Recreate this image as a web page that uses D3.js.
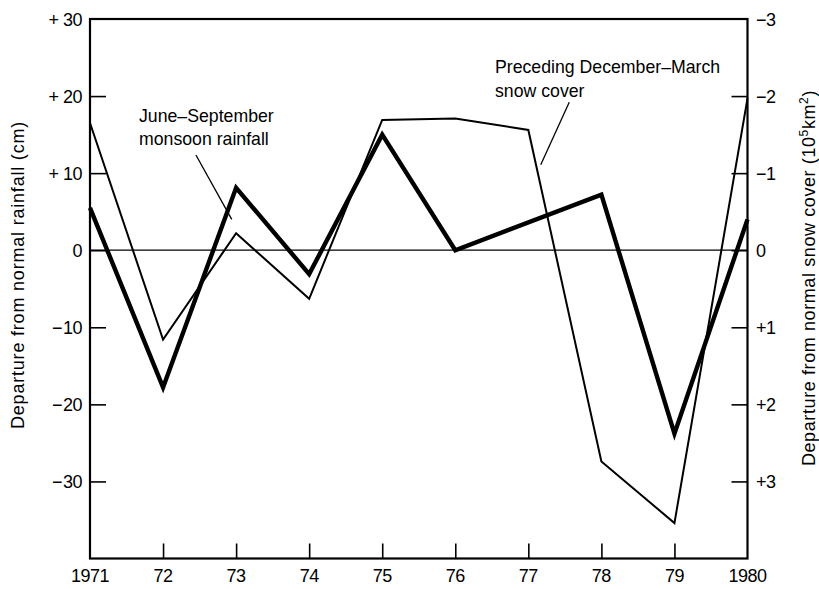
<!DOCTYPE html>
<html>
<head>
<meta charset="utf-8">
<script src="https://cdn.jsdelivr.net/npm/d3@7/dist/d3.min.js"></script>
<style>
  html, body { margin: 0; padding: 0; background: #fff; }
  svg { display: block; }
  text { font-family: "Liberation Sans", Arial, Helvetica, sans-serif; fill: #000; }
</style>
</head>
<body>
<svg id="chart" width="819" height="589"></svg>
<script>
// Years on the horizontal axis
const years = [1971, 1972, 1973, 1974, 1975, 1976, 1977, 1978, 1979, 1980];
const yearLabels = ["1971", "72", "73", "74", "75", "76", "77", "78", "79", "1980"];

// June–September monsoon rainfall, departure from normal (cm)
const rainfall = [5.5, -17.8, 8.1, -3.1, 15.0, 0.0, null, 7.2, -23.8, 4.0];

// Preceding December–March snow cover, departure from normal (10^5 km^2)
const snowCover = [-1.65, 1.16, -0.22, 0.63, -1.69, -1.71, -1.56, 2.74, 3.54, -1.97];

// Tick values and labels for the two vertical axes
const rainTicks = [30, 20, 10, 0, -10, -20, -30];
const rainTickLabels = ["+ 30", "+ 20", "+ 10", "0", "\u2212\u200A10", "\u2212\u200A20", "\u2212\u200A30"];
const snowTicks = [-3, -2, -1, 0, 1, 2, 3];
const snowTickLabels = ["\u22123", "\u22122", "\u22121", "0", "+1", "+2", "+3"];

const svg = d3.select("#chart");
const plotLeft = 90, plotRight = 747.5, plotTop = 19, plotBottom = 558.5;

const x = d3.scaleLinear().domain([1971, 1980]).range([plotLeft, plotRight]);
const yRain = d3.scaleLinear().domain([-40, 30]).range([plotBottom, plotTop]);
const ySnow = d3.scaleLinear().domain([4, -3]).range([plotBottom, plotTop]);

const tickFont = 18, tickSpacing = -0.5;

// Zero reference line
svg.append("line")
  .attr("x1", plotLeft).attr("x2", plotRight)
  .attr("y1", yRain(0)).attr("y2", yRain(0))
  .attr("stroke", "#000").attr("stroke-width", 1.3);

// Left axis with inward ticks
const leftAxis = d3.axisRight(yRain)
  .tickValues(rainTicks.filter(v => v !== 30))
  .tickSize(16).tickFormat("");
const gL = svg.append("g").attr("transform", `translate(${plotLeft},0)`).call(leftAxis);
gL.select(".domain").remove();
gL.selectAll(".tick line").attr("stroke", "#000").attr("stroke-width", 1.6);

svg.append("g").selectAll("text").data(rainTicks).join("text")
  .attr("x", 82).attr("y", d => yRain(d) + 6.6)
  .attr("text-anchor", "end")
  .attr("font-size", tickFont)
  .attr("letter-spacing", tickSpacing)
  .attr("xml:space", "preserve")
  .text((d, i) => rainTickLabels[i]);

// Right axis with inward ticks
const rightAxis = d3.axisLeft(ySnow)
  .tickValues(snowTicks.filter(v => v !== -3))
  .tickSize(16).tickFormat("");
const gR = svg.append("g").attr("transform", `translate(${plotRight},0)`).call(rightAxis);
gR.select(".domain").remove();
gR.selectAll(".tick line").attr("stroke", "#000").attr("stroke-width", 1.6);

svg.append("g").selectAll("text").data(snowTicks).join("text")
  .attr("x", 756).attr("y", d => ySnow(d) + 6.6)
  .attr("text-anchor", "start")
  .attr("font-size", tickFont)
  .attr("letter-spacing", tickSpacing)
  .text((d, i) => snowTickLabels[i]);

// Bottom axis with inward ticks
const bottomAxis = d3.axisTop(x)
  .tickValues(years.slice(1, -1))
  .tickSize(15).tickFormat("");
const gB = svg.append("g").attr("transform", `translate(0,${plotBottom})`).call(bottomAxis);
gB.select(".domain").remove();
gB.selectAll(".tick line").attr("stroke", "#000").attr("stroke-width", 1.6);

svg.append("g").selectAll("text").data(years).join("text")
  .attr("x", d => x(d)).attr("y", 582)
  .attr("text-anchor", "middle")
  .attr("font-size", tickFont)
  .attr("letter-spacing", tickSpacing)
  .text((d, i) => yearLabels[i]);

// Plot frame
svg.append("rect")
  .attr("x", plotLeft).attr("y", plotTop)
  .attr("width", plotRight - plotLeft).attr("height", plotBottom - plotTop)
  .attr("fill", "none").attr("stroke", "#000").attr("stroke-width", 2.2);

// Snow cover series (thin line, right axis)
const snowLine = d3.line()
  .x((d, i) => x(years[i]))
  .y(d => ySnow(d));
svg.append("path")
  .datum(snowCover)
  .attr("d", snowLine)
  .attr("fill", "none").attr("stroke", "#000")
  .attr("stroke-width", 2).attr("stroke-linejoin", "miter");

// Rainfall series (thick line, left axis); 1977 has no value
const rainPts = years.map((yr, i) => [yr, rainfall[i]]).filter(p => p[1] !== null);
const rainLine = d3.line()
  .x(d => x(d[0]))
  .y(d => yRain(d[1]));
svg.append("path")
  .datum(rainPts)
  .attr("d", rainLine)
  .attr("fill", "none").attr("stroke", "#000")
  .attr("stroke-width", 4.4).attr("stroke-linejoin", "miter");

// Series annotations with leader lines
svg.append("line")
  .attr("x1", x(1972.45)).attr("y1", yRain(12.35))
  .attr("x2", x(1972.94)).attr("y2", yRain(4.0))
  .attr("stroke", "#000").attr("stroke-width", 1.3);
svg.append("text").attr("x", 139).attr("y", 122).attr("font-size", 17.7)
  .text("June\u2013September");
svg.append("text").attr("x", 139).attr("y", 145).attr("font-size", 17.7)
  .text("monsoon rainfall");

svg.append("line")
  .attr("x1", x(1977.56)).attr("y1", yRain(19.2))
  .attr("x2", x(1977.17)).attr("y2", yRain(11.1))
  .attr("stroke", "#000").attr("stroke-width", 1.3);
svg.append("text").attr("x", 495).attr("y", 73).attr("font-size", 17.7)
  .text("Preceding December\u2013March");
svg.append("text").attr("x", 495).attr("y", 97).attr("font-size", 17.7)
  .text("snow cover");

// Axis titles
svg.append("text")
  .attr("transform", "translate(24,275) rotate(-90)")
  .attr("text-anchor", "middle")
  .attr("font-size", 18)
  .attr("letter-spacing", 0.8)
  .text("Departure from normal rainfall (cm)");

const rt = svg.append("text")
  .attr("transform", "translate(815,90) rotate(-90)")
  .attr("text-anchor", "end")
  .attr("font-size", 18)
  .attr("letter-spacing", 0.6);
rt.append("tspan").text("Departure from normal snow cover (10");
rt.append("tspan").attr("font-size", 12).attr("dy", -7).text("5");
rt.append("tspan").attr("dy", 7).text("km");
rt.append("tspan").attr("font-size", 12).attr("dy", -7).text("2");
rt.append("tspan").attr("dy", 7).text(")");
</script>
</body>
</html>
